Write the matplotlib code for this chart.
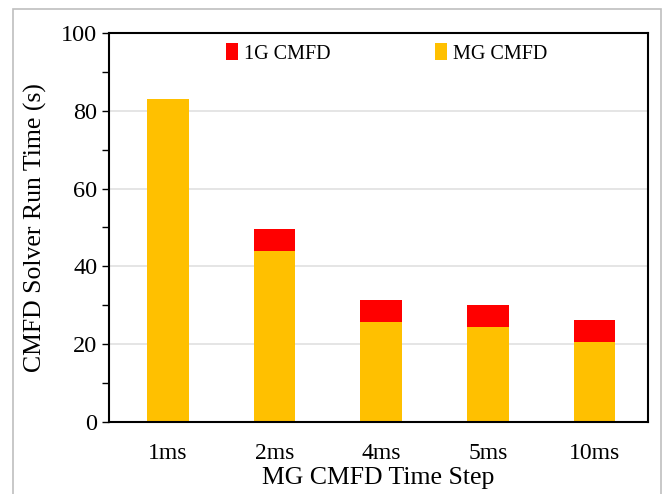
"""Stacked bar chart of CMFD solver run time versus MG CMFD time step."""

import matplotlib
matplotlib.use('Agg')
import matplotlib.pyplot as plt
from matplotlib.patches import Rectangle
from matplotlib.ticker import MultipleLocator
import numpy as np


time_steps = ['1ms', '2ms', '4ms', '5ms', '10ms']
mg_cmfd = [83.0, 44.0, 25.6, 24.3, 20.6]
g1_cmfd = [0.0, 5.5, 5.8, 5.8, 5.5]

MG_COLOR = '#FFC000'
G1_COLOR = '#FF0000'

plt.rcParams['font.family'] = ['Liberation Serif', 'DejaVu Serif']

fig = plt.figure(figsize=(6.63, 4.94), dpi=100)
ax = fig.add_axes([109 / 663, 1 - 422 / 494, 539 / 663, 389 / 494])

x = np.arange(len(time_steps))
ax.bar(x, mg_cmfd, width=0.39, color=MG_COLOR, label='MG CMFD', zorder=2)
ax.bar(x, g1_cmfd, width=0.39, bottom=mg_cmfd, color=G1_COLOR, label='1G CMFD', zorder=2)

ax.set_xlim(-0.55, len(time_steps) - 0.5)
ax.set_ylim(0, 100)
ax.set_xticks(x)
ax.set_xticklabels(time_steps, fontsize=17)
ax.yaxis.set_major_locator(MultipleLocator(20))
ax.yaxis.set_minor_locator(MultipleLocator(10))
ax.tick_params(axis='y', which='both', direction='out', length=5, width=1, labelsize=17.5)
ax.tick_params(axis='x', length=0, pad=15)
ax.grid(axis='y', color='#e0e0e0', linewidth=1.2, zorder=0)
ax.set_axisbelow(True)
for spine in ax.spines.values():
    spine.set_linewidth(1.5)
    spine.set_color('black')

ax.set_xlabel('MG CMFD Time Step', fontsize=18.5, labelpad=2)
ax.set_ylabel('CMFD Solver Run Time (s)', fontsize=18.5, labelpad=10)

handles, labels = ax.get_legend_handles_labels()
ax.legend(handles[::-1], labels[::-1], loc='upper center', ncol=2, frameon=False,
          fontsize=14.5, handlelength=0.6, handleheight=0.9, handletextpad=0.3,
          columnspacing=5.15, bbox_to_anchor=(0.515, 1.02))

# light grey frame around the whole figure
fig.patches.append(Rectangle((13 / 663, -0.01), 648 / 663, 1 - 9 / 494 + 0.01,
                             transform=fig.transFigure, fill=False,
                             edgecolor='#bfbfbf', linewidth=1.2))

fig.savefig('out.png', dpi=100)
